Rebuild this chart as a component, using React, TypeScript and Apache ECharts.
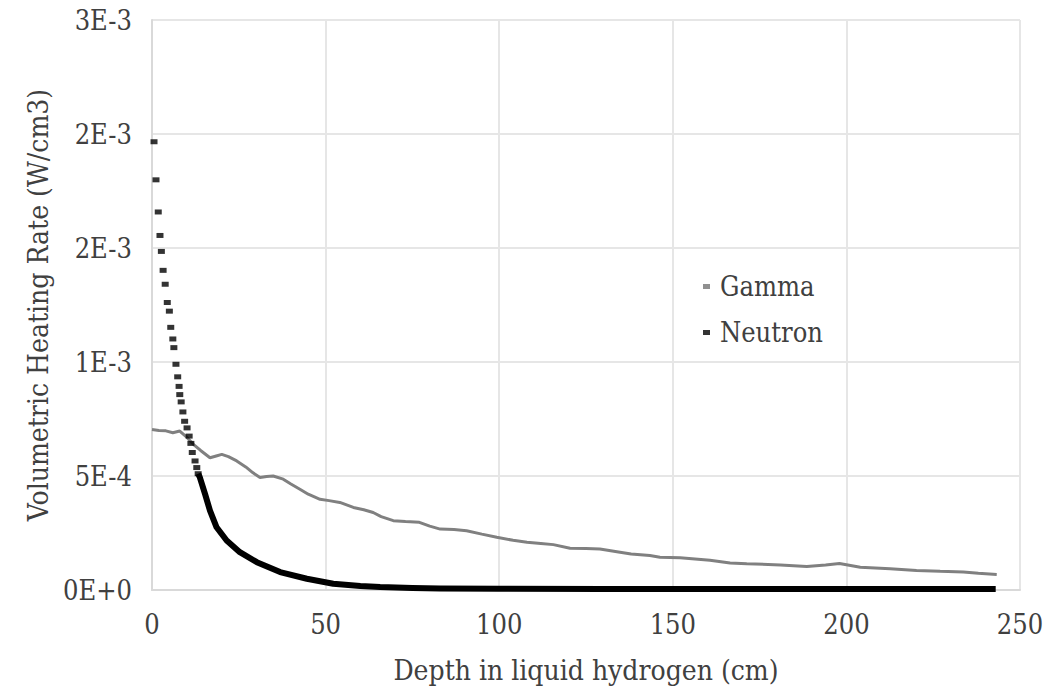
import React, { useEffect, useRef } from "react";
import * as echarts from "echarts";

const xTicks = [0, 50, 100, 150, 200, 250];
const yTickLabels = ["0E+0", "5E-4", "1E-3", "2E-3", "2E-3", "3E-3"];

const gammaDepth = [
  0, 2, 4, 6, 8, 10, 12, 14, 16.7, 18.5, 20.1, 22, 24.4, 27, 29, 31.1, 33, 34.9, 37.8, 40, 42.6,
  45, 48.4, 51, 54.1, 58, 61, 63.7, 66, 69.5, 73, 77, 80, 83, 87, 90.6, 95, 99.3, 104, 108, 112,
  115.6, 120.4, 125, 129, 134.8, 138, 143.4, 146.3, 152.1, 160.7, 166.5, 171.3, 181, 188.6, 194,
  198, 204, 212.6, 220.2, 227, 233.7, 238, 243.3,
];
const gammaRate = [
  0.000704, 0.0007, 0.000698, 0.00069, 0.000697, 0.00067, 0.000638, 0.000612, 0.00058, 0.000588,
  0.000595, 0.000585, 0.000566, 0.00054, 0.000515, 0.000493, 0.000498, 0.0005, 0.000486, 0.000465,
  0.000442, 0.00042, 0.000398, 0.000392, 0.000384, 0.000362, 0.000352, 0.00034, 0.000322, 0.000304,
  0.0003, 0.000297, 0.00028, 0.000267, 0.000265, 0.00026, 0.000245, 0.000231, 0.000218, 0.000209,
  0.000204, 0.000199, 0.000183, 0.000182, 0.00018, 0.000166, 0.000158, 0.000151, 0.000144, 0.000141,
  0.00013, 0.000118, 0.000115, 0.00011, 0.000103, 0.00011, 0.000116, 0.0001, 0.000093, 0.000086,
  0.000082, 0.000079, 0.000073, 0.000068,
];

const neutronDepthNear = [
  0.58, 1.15, 1.8, 2.3, 2.7, 3.2, 3.8, 4.4, 5.0, 5.4, 6.0, 6.3, 6.9, 7.4, 7.8, 8.0, 8.4, 8.9, 9.4,
  10.1, 10.7, 11.2, 11.6, 12.4, 12.9, 13.3,
];
const neutronRateNear = [
  0.001966, 0.001799, 0.001658, 0.001555, 0.001485, 0.001402, 0.001341, 0.001261, 0.001223,
  0.001152, 0.001101, 0.001063, 0.00099, 0.000935, 0.000893, 0.000857, 0.000825, 0.000781,
  0.00074, 0.000711, 0.000675, 0.000643, 0.000603, 0.000566, 0.000537, 0.00051,
];

const neutronDepthFar = [
  13.3, 13.8, 15.3, 16.7, 18.6, 21.5, 25.3, 30.2, 36.9, 44.6, 52.2, 60, 65.7, 75, 83, 100, 130,
  160, 200, 243,
];
const neutronRateFar = [
  0.00051, 0.000493, 0.00042, 0.000348, 0.000275, 0.000217, 0.000166, 0.000122, 0.0000785,
  0.0000493, 0.0000275, 0.000018, 0.000013, 0.0000085, 0.0000065, 0.000005, 0.0000045, 0.000004,
  0.000004, 0.000004,
];

const FONT = "DejaVu Serif Condensed, DejaVu Serif";
const TEXT = "#404040";

export default function App() {
  const ref = useRef<HTMLDivElement>(null);
  useEffect(() => {
    if (!ref.current) return;
    const chart = echarts.init(ref.current, undefined, { renderer: "svg" });
    const zip = (xs: number[], ys: number[]) => xs.map((x, i) => [x, ys[i]]);
    chart.setOption({
      animation: false,
      backgroundColor: "#ffffff",
      textStyle: { fontFamily: FONT },
      grid: { left: 152, right: 40, top: 20, bottom: 96, containLabel: false },
      legend: {
        orient: "vertical",
        left: 698,
        top: 268,
        itemWidth: 7,
        itemHeight: 5,
        itemGap: 19,
        textStyle: { fontFamily: FONT, fontSize: 27, color: TEXT, padding: [0, 0, 0, 5] },
        data: [
          { name: "Gamma", icon: "rect", itemStyle: { color: "#909090" } },
          { name: "Neutron", icon: "rect", itemStyle: { color: "#000000" } },
        ],
      },
      xAxis: {
        type: "value",
        min: xTicks[0],
        max: xTicks[xTicks.length - 1],
        interval: 50,
        name: "Depth in liquid hydrogen (cm)",
        nameLocation: "middle",
        nameGap: 66,
        nameTextStyle: { fontFamily: FONT, fontSize: 28, color: TEXT },
        axisLine: { show: true, lineStyle: { color: "#d9d9d9", width: 2 } },
        axisTick: { show: false },
        axisLabel: { fontFamily: FONT, fontSize: 27, color: TEXT, margin: 21 },
        splitLine: { show: true, lineStyle: { color: "#e6e6e6", width: 2 } },
      },
      yAxis: {
        type: "value",
        min: 0,
        max: 0.0025,
        interval: 0.0005,
        name: "Volumetric Heating Rate (W/cm3)",
        nameLocation: "middle",
        nameGap: 97,
        nameTextStyle: { fontFamily: FONT, fontSize: 28, color: TEXT },
        axisLine: { show: true, lineStyle: { color: "#d9d9d9", width: 2 } },
        axisTick: { show: false },
        axisLabel: {
          fontFamily: FONT,
          fontSize: 27,
          color: TEXT,
          margin: 20,
          formatter: (v: number) => yTickLabels[Math.round(v / 0.0005)] ?? "",
        },
        splitLine: { show: true, lineStyle: { color: "#e6e6e6", width: 2 } },
      },
      series: [
        {
          name: "Gamma",
          type: "line",
          data: zip(gammaDepth, gammaRate),
          showSymbol: false,
          lineStyle: { color: "#808080", width: 3 },
          itemStyle: { color: "#909090" },
          z: 2,
        },
        {
          name: "Neutron",
          type: "scatter",
          data: zip(neutronDepthNear, neutronRateNear),
          symbol: "rect",
          symbolSize: [7, 5],
          itemStyle: { color: "#000000" },
          z: 3,
        },
        {
          name: "Neutron",
          type: "line",
          data: zip(neutronDepthFar, neutronRateFar),
          showSymbol: false,
          lineStyle: { color: "#000000", width: 6, join: "round" },
          itemStyle: { color: "#000000" },
          z: 3,
        },
      ],
    });
    return () => chart.dispose();
  }, []);
  return (
    <div
      ref={ref}
      style={{ position: "fixed", left: 0, top: 0, width: 1060, height: 689, background: "#fff" }}
    />
  );
}
